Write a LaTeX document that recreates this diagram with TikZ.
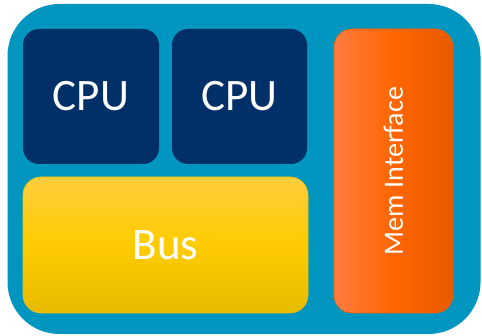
\documentclass[tikz,border=0pt]{standalone}
\usepackage{fontspec}
\setmainfont{Carlito}
\definecolor{shell}{HTML}{0096C0}
\definecolor{cpublue}{HTML}{003067}
\definecolor{bustop}{HTML}{FFCD3E}
\definecolor{busmid}{HTML}{FFCC00}
\definecolor{busbot}{HTML}{E8BB00}
\definecolor{busedge}{HTML}{F2C000}
\definecolor{memleft}{HTML}{FF7B42}
\definecolor{memmid}{HTML}{FF6600}
\definecolor{memright}{HTML}{E85A00}
\definecolor{memedge}{HTML}{F26200}
\begin{document}
\begin{tikzpicture}[x=1pt,y=-1pt,
  block/.style={rectangle, inner sep=0pt, text=white, align=center},
  cpubox/.style={block, fill=cpublue, rounded corners=16pt,
    minimum width=136pt, minimum height=135pt, font=\fontsize{45}{54}\selectfont},
  busbox/.style={block, draw=busedge, line width=0.6pt, rounded corners=18pt,
    top color=bustop, bottom color=busbot, middle color=busmid,
    minimum width=285pt, minimum height=136pt, font=\fontsize{45}{54}\selectfont},
  membox/.style={block, draw=memedge, line width=0.6pt, rounded corners=18pt,
    left color=memleft, right color=memright, middle color=memmid,
    minimum width=119pt, minimum height=284pt},
  memlabel/.style={text=white, inner sep=0pt, rotate=90, font=\fontsize{28}{34}\selectfont}]
  \useasboundingbox (0,0) rectangle (482,336);
  % chip outline
  \node[block, fill=shell, rounded corners=52pt, minimum width=473pt, minimum height=330pt]
    (chip) at (244,169) {};
  % processing cores
  \node[cpubox] (cpu1) at (91,96.5) {CPU};
  \node[cpubox, minimum width=135pt] (cpu2) at (239.5,96.5) {CPU};
  % shared bus
  \node[busbox] (bus) at (165.5,245) {Bus};
  % memory interface
  \node[membox] (mem) at (393.5,171) {};
  \node[memlabel] (memtext) at (mem.center) {Mem Interface};
\end{tikzpicture}
\end{document}
